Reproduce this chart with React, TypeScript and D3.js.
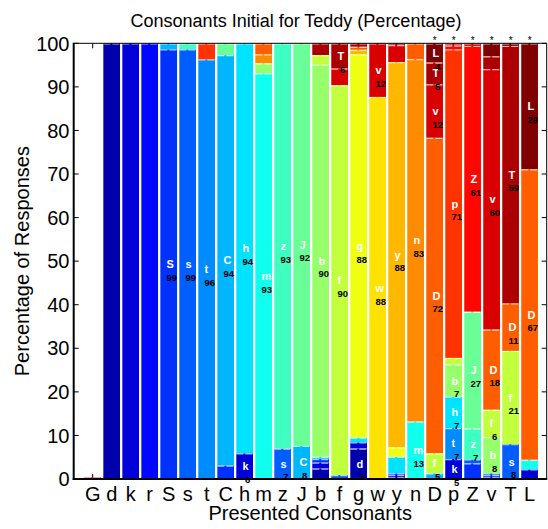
import React from "react";
import * as d3 from "d3";

// Presented consonants (x categories); also the response colour/stack order
const categories = ["G","d","k","r","S","s","t","C","h","m","z","J","b","f","g","w","y","n","D","p","Z","v","T","L"];

// Responses (percentage) for each presented consonant: [response, percent]
const resp_G: [string, number][] = [["v", 0.4]];
const resp_d: [string, number][] = [["d", 100]];
const resp_k: [string, number][] = [["k", 100]];
const resp_r: [string, number][] = [["r", 100]];
const resp_S: [string, number][] = [["S", 98.6], ["C", 1.4]];
const resp_s: [string, number][] = [["s", 98.6], ["z", 1.4]];
const resp_t: [string, number][] = [["t", 96.3], ["p", 3.7]];
const resp_C: [string, number][] = [["S", 3.1], ["C", 94.2], ["J", 2.7]];
const resp_h: [string, number][] = [["k", 5.9], ["h", 94.1]];
const resp_m: [string, number][] = [["m", 93.1], ["b", 2.3], ["n", 2.1], ["D", 2.5]];
const resp_z: [string, number][] = [["s", 7.0], ["z", 93.0]];
const resp_J: [string, number][] = [["C", 7.6], ["J", 92.4]];
const resp_b: [string, number][] = [["d", 2.4], ["k", 1.4], ["S", 0.8], ["h", 0.5], ["b", 90.0], ["f", 2.2], ["T", 2.7]];
const resp_f: [string, number][] = [["s", 0.9], ["f", 89.5], ["v", 3.8], ["T", 5.8]];
const resp_g: [string, number][] = [["d", 7.0], ["k", 1.4], ["h", 1.1], ["g", 88.0], ["y", 1.0], ["D", 0.7], ["T", 0.8]];
const resp_w: [string, number][] = [["w", 87.7], ["v", 12.3]];
const resp_y: [string, number][] = [["d", 0.4], ["k", 0.5], ["S", 0.4], ["h", 3.8], ["g", 2.2], ["y", 88.4], ["v", 3.9], ["T", 0.4]];
const resp_n: [string, number][] = [["m", 13.2], ["n", 83.2], ["D", 3.6]];
const resp_D: [string, number][] = [["C", 1.3], ["f", 4.6], ["D", 72.4], ["v", 12.3], ["T", 5.0], ["L", 4.4]];
const resp_p: [string, number][] = [["k", 4.6], ["t", 7.1], ["h", 7.2], ["b", 7.4], ["f", 1.5], ["p", 70.8], ["Z", 0.9], ["v", 0.5]];
const resp_Z: [string, number][] = [["S", 3.6], ["s", 0.9], ["z", 7.1], ["J", 26.8], ["Z", 61.0], ["v", 0.6]];
const resp_v: [string, number][] = [["d", 0.4], ["S", 0.5], ["s", 0.4], ["b", 8.3], ["f", 6.3], ["D", 18.4], ["v", 59.8], ["T", 2.9], ["L", 3.0]];
const resp_T: [string, number][] = [["s", 8.0], ["f", 21.4], ["D", 10.9], ["T", 59.1], ["L", 0.6]];
const resp_L: [string, number][] = [["k", 2.2], ["m", 2.2], ["D", 66.7], ["L", 28.9]];

const responses = [resp_G, resp_d, resp_k, resp_r, resp_S, resp_s, resp_t, resp_C, resp_h, resp_m, resp_z, resp_J,
  resp_b, resp_f, resp_g, resp_w, resp_y, resp_n, resp_D, resp_p, resp_Z, resp_v, resp_T, resp_L];

// Categories marked with an asterisk above the bar
const starred = ["D", "p", "Z", "v", "T", "L"];

const yTicks = [0, 10, 20, 30, 40, 50, 60, 70, 80, 90, 100];

const title = "Consonants Initial for Teddy (Percentage)";
const xLabel = "Presented Consonants";
const yLabel = "Percentage of Responses";

const W = 548, H = 529;
const left = 73.7, right = 546.7, top = 43.3, bottom = 479;
const FONT = "'Liberation Sans', Arial, Helvetica, sans-serif";

function jet(t: number): string {
  const c = (v: number) => Math.max(0, Math.min(1, v));
  const r = c(1.5 - Math.abs(4 * t - 3));
  const g = c(1.5 - Math.abs(4 * t - 2));
  const b = c(1.5 - Math.abs(4 * t - 1));
  return d3.rgb(r * 255, g * 255, b * 255).formatHex();
}

export default function App() {
  const x = d3.scaleLinear().domain([0, 24.9]).range([left, right]);
  const y = d3.scaleLinear().domain([0, 100]).range([bottom, top]);
  const color = d3.scaleOrdinal<string, string>()
    .domain(categories)
    .range(categories.map((_, i) => jet(i / (categories.length - 1))));

  const rows = categories.map((cat, i) => {
    const row: Record<string, number | string> = { cat };
    categories.forEach((k) => (row[k] = 0));
    responses[i].forEach(([k, v]) => (row[k] = v));
    return row;
  });
  const stack = d3.stack<Record<string, number | string>>().keys(categories)(rows as any);

  const step = x(1) - x(0);
  const bw = step * 0.88;

  const segs: { i: number; key: string; y0: number; y1: number }[] = [];
  stack.forEach((series) => {
    series.forEach((pt, i) => {
      if (pt[1] - pt[0] > 0) segs.push({ i, key: series.key, y0: pt[0], y1: pt[1] });
    });
  });

  return (
    <svg width={W} height={H} style={{ position: "absolute", left: 0, top: 0, background: "#fff" }} fontFamily={FONT}>
      <rect x={0} y={0} width={W} height={H} fill="#fff" />
      {/* ticks (under the bars) */}
      {categories.map((c, i) => (
        <g key={"xt" + c}>
          <line x1={x(i + 1)} x2={x(i + 1)} y1={bottom} y2={bottom - 5} stroke="#000" strokeWidth={1} />
          <line x1={x(i + 1)} x2={x(i + 1)} y1={top} y2={top + 5} stroke="#000" strokeWidth={1} />
        </g>
      ))}
      {yTicks.map((t) => (
        <g key={"yt" + t}>
          <line x1={left} x2={left + 5} y1={y(t)} y2={y(t)} stroke="#000" strokeWidth={1} />
          <line x1={right} x2={right - 5} y1={y(t)} y2={y(t)} stroke="#000" strokeWidth={1} />
        </g>
      ))}
      {/* bars */}
      {segs.map((s, k) => (
        <rect key={"r" + k} x={x(s.i + 1) - bw / 2} width={bw} y={y(s.y1)} height={y(s.y0) - y(s.y1)} fill={color(s.key)} />
      ))}
      {/* dashed segment separators */}
      {segs.map((s, k) => (
        <line key={"d" + k} x1={x(s.i + 1) - bw / 2} x2={x(s.i + 1) + bw / 2} y1={y(s.y1) + 0.6} y2={y(s.y1) + 0.6}
          stroke="#fff" strokeOpacity={0.7} strokeWidth={1.2} strokeDasharray="7,2" />
      ))}
      {/* segment labels */}
      {segs.filter((s) => s.y1 - s.y0 >= 4 && s.y1 - s.y0 < 100).map((s, k) => {
        const mid = y((s.y0 + s.y1) / 2);
        const v = Math.round(s.y1 - s.y0);
        const cx = x(s.i + 1) - 2.2;
        return (
          <g key={"l" + k}>
            <text x={cx} y={mid + 4} fill="#fff" fontSize={11} fontWeight="bold">{s.key}</text>
            <text x={cx + (v < 10 ? 2.5 : 0)} y={mid + 16.7} fill="#000" fontSize={9.5} fontWeight="bold">{v}</text>
          </g>
        );
      })}
      {/* stars */}
      {categories.map((c, i) => starred.includes(c) ? (
        <text key={"st" + c} x={x(i + 1)} y={44} fontSize={10} textAnchor="middle" fill="#000">*</text>
      ) : null)}
      {/* axes box */}
      <line x1={left} x2={right} y1={top} y2={top} stroke="#000" strokeWidth={1} />
      <line x1={right} x2={right} y1={top} y2={bottom} stroke="#000" strokeWidth={1} />
      <line x1={left} x2={left} y1={top - 0.5} y2={bottom + 1} stroke="#000" strokeWidth={2} />
      <line x1={left - 1} x2={right + 0.5} y1={bottom} y2={bottom} stroke="#000" strokeWidth={2} />
      {/* tick labels */}
      {yTicks.map((t) => (
        <text key={"yl" + t} x={69.5} y={y(t) + 7.2} fontSize={20} textAnchor="end" fill="#000">{t}</text>
      ))}
      {categories.map((c, i) => (
        <text key={"xl" + c} x={x(i + 1)} y={501} fontSize={20} textAnchor="middle" fill="#000">{c}</text>
      ))}
      <text x={296} y={27} fontSize={18} textAnchor="middle" fill="#000">{title}</text>
      <text x={(left + right) / 2} y={520} fontSize={20} textAnchor="middle" fill="#000">{xLabel}</text>
      <text transform={`translate(29,${(top + bottom) / 2}) rotate(-90)`} fontSize={20} textAnchor="middle" fill="#000">{yLabel}</text>
    </svg>
  );
}
